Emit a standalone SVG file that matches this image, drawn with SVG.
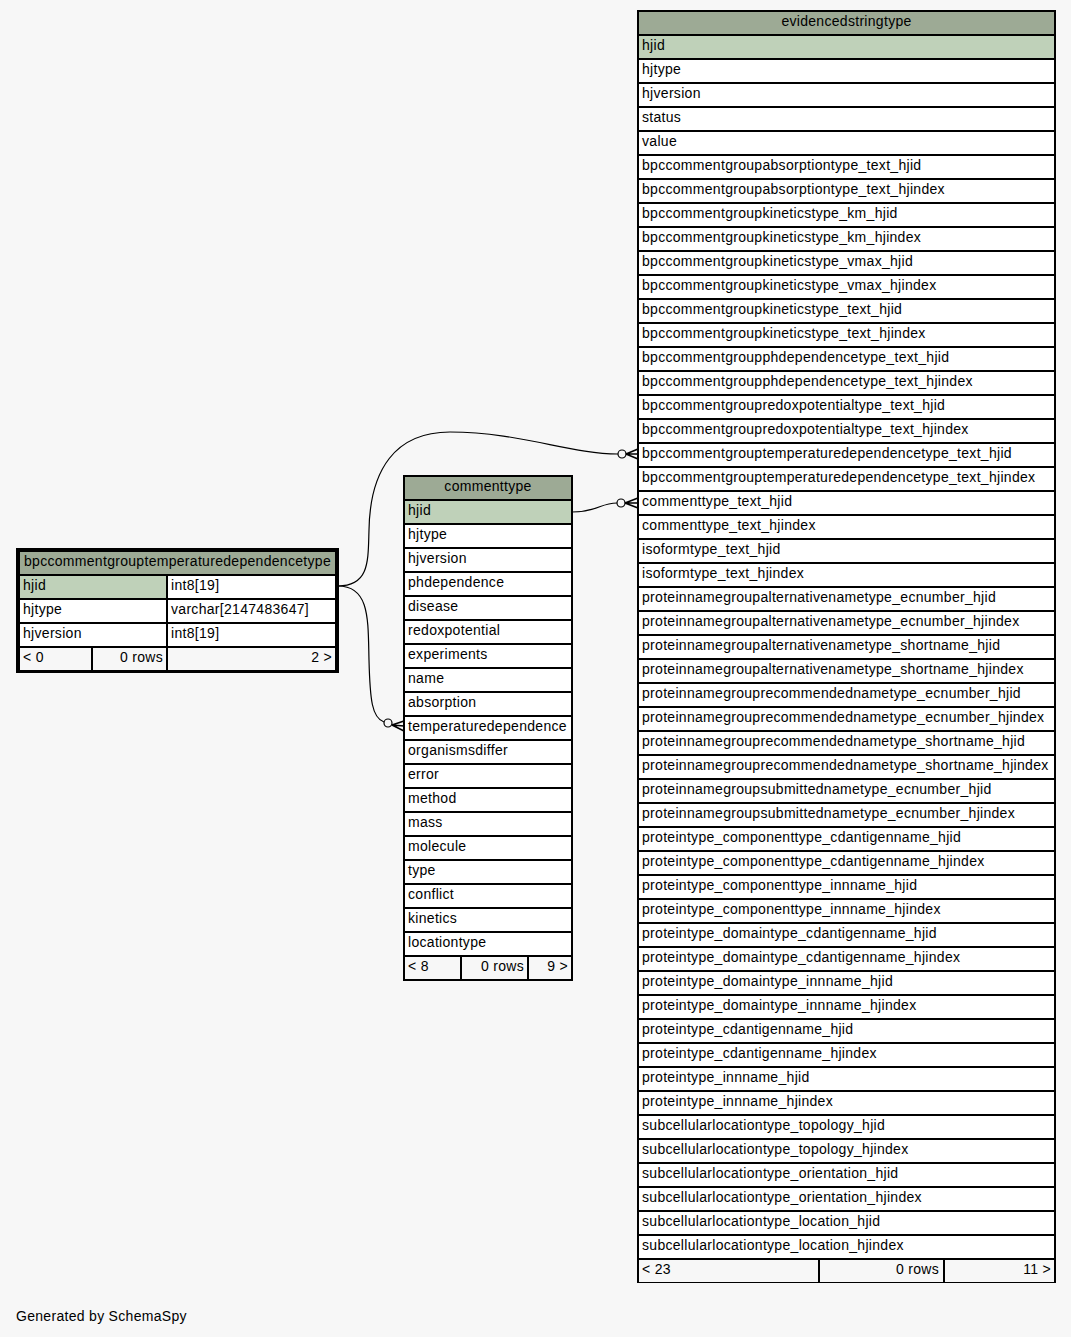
<svg xmlns="http://www.w3.org/2000/svg" width="1071" height="1337" viewBox="0 0 1071 1337">
<style>
text{font-family:"Liberation Sans",Arial,sans-serif;font-size:14px;letter-spacing:0.3px;fill:#000;transform:translate(0px,-1px)}
.m{text-anchor:middle}
.e{text-anchor:end}
rect{stroke:#000;stroke-width:1}
.h{fill:#9daa95}
.k{fill:#bfd1b9}
.r{fill:#fff}
.f{fill:#f7f7f7}
.o{fill:none}
.b{fill:none;stroke-width:3}
.ln{fill:none;stroke:#000;stroke-width:1.2}
.cr{fill:none;stroke:#000;stroke-width:1.6}
.dot{fill:#f7f7f7;stroke:#000;stroke-width:1.2}
</style>
<rect x="0" y="0" width="1071" height="1337" style="fill:#f7f7f7;stroke:none"/>

<g id="connectors">
<path class="ln" d="M338,586 C370,586 368,560 369,530 C370,470 395,432 450,432 C520,432 570,454 618,454"/>
<circle class="dot" cx="622" cy="454" r="4"/>
<path class="cr" d="M626,454 L638,449 M626,454 L638,454 M626,454 L638,459"/>
<path class="ln" d="M338,586 C370,586 368,620 369,660 C370,700 372,718 384,722"/>
<circle class="dot" cx="388" cy="723" r="4"/>
<path class="cr" d="M392,725 L404,721 M392,725 L404,726 M392,725 L404,731"/>
<path class="ln" d="M572,512 C598,512 600,503 617,503"/>
<circle class="dot" cx="621" cy="503" r="4"/>
<path class="cr" d="M625,503 L638,498 M625,503 L638,503 M625,503 L638,508"/>
</g>

<g id="bpccommentgrouptemperaturedependencetype">
<rect class="h" x="19.5" y="551.5" width="316" height="23"/>
<text class="m" x="177.5" y="567">bpccommentgrouptemperaturedependencetype</text>
<rect class="k" x="19.5" y="575.5" width="147" height="23"/>
<rect class="r" x="167.5" y="575.5" width="168" height="23"/>
<text x="23" y="591">hjid</text><text x="171" y="591">int8[19]</text>
<rect class="r" x="19.5" y="599.5" width="147" height="23"/>
<rect class="r" x="167.5" y="599.5" width="168" height="23"/>
<text x="23" y="615">hjtype</text><text x="171" y="615">varchar[2147483647]</text>
<rect class="r" x="19.5" y="623.5" width="147" height="23"/>
<rect class="r" x="167.5" y="623.5" width="168" height="23"/>
<text x="23" y="639">hjversion</text><text x="171" y="639">int8[19]</text>
<rect class="f" x="19.5" y="647.5" width="72" height="23"/>
<rect class="f" x="92.5" y="647.5" width="74" height="23"/>
<rect class="f" x="167.5" y="647.5" width="168" height="23"/>
<text x="23" y="663">&lt; 0</text><text class="e" x="163" y="663">0 rows</text><text class="e" x="332" y="663">2 &gt;</text>
<rect class="b" x="17.5" y="549.5" width="320" height="122"/>
</g>

<g id="commenttype">
<rect class="o" x="403.5" y="475.5" width="169" height="505"/>
<rect class="h" x="404.5" y="476.5" width="167" height="23"/>
<text class="m" x="488" y="492">commenttype</text>
<rect class="k" x="404.5" y="500.5" width="167" height="23"/><text x="408" y="516">hjid</text>
<rect class="r" x="404.5" y="524.5" width="167" height="23"/><text x="408" y="540">hjtype</text>
<rect class="r" x="404.5" y="548.5" width="167" height="23"/><text x="408" y="564">hjversion</text>
<rect class="r" x="404.5" y="572.5" width="167" height="23"/><text x="408" y="588">phdependence</text>
<rect class="r" x="404.5" y="596.5" width="167" height="23"/><text x="408" y="612">disease</text>
<rect class="r" x="404.5" y="620.5" width="167" height="23"/><text x="408" y="636">redoxpotential</text>
<rect class="r" x="404.5" y="644.5" width="167" height="23"/><text x="408" y="660">experiments</text>
<rect class="r" x="404.5" y="668.5" width="167" height="23"/><text x="408" y="684">name</text>
<rect class="r" x="404.5" y="692.5" width="167" height="23"/><text x="408" y="708">absorption</text>
<rect class="r" x="404.5" y="716.5" width="167" height="23"/><text x="408" y="732">temperaturedependence</text>
<rect class="r" x="404.5" y="740.5" width="167" height="23"/><text x="408" y="756">organismsdiffer</text>
<rect class="r" x="404.5" y="764.5" width="167" height="23"/><text x="408" y="780">error</text>
<rect class="r" x="404.5" y="788.5" width="167" height="23"/><text x="408" y="804">method</text>
<rect class="r" x="404.5" y="812.5" width="167" height="23"/><text x="408" y="828">mass</text>
<rect class="r" x="404.5" y="836.5" width="167" height="23"/><text x="408" y="852">molecule</text>
<rect class="r" x="404.5" y="860.5" width="167" height="23"/><text x="408" y="876">type</text>
<rect class="r" x="404.5" y="884.5" width="167" height="23"/><text x="408" y="900">conflict</text>
<rect class="r" x="404.5" y="908.5" width="167" height="23"/><text x="408" y="924">kinetics</text>
<rect class="r" x="404.5" y="932.5" width="167" height="23"/><text x="408" y="948">locationtype</text>
<rect class="f" x="404.5" y="956.5" width="56" height="23"/>
<rect class="f" x="461.5" y="956.5" width="66" height="23"/>
<rect class="f" x="528.5" y="956.5" width="43" height="23"/>
<text x="408" y="972">&lt; 8</text><text class="e" x="524" y="972">0 rows</text><text class="e" x="568" y="972">9 &gt;</text>
</g>

<g id="evidencedstringtype">
<rect class="o" x="637.5" y="10.5" width="418" height="1272"/>
<rect class="h" x="638.5" y="11.5" width="416" height="23"/>
<text class="m" x="846.5" y="27">evidencedstringtype</text>
<rect class="k" x="638.5" y="35.5" width="416" height="23"/><text x="642" y="51">hjid</text>
<rect class="r" x="638.5" y="59.5" width="416" height="23"/><text x="642" y="75">hjtype</text>
<rect class="r" x="638.5" y="83.5" width="416" height="23"/><text x="642" y="99">hjversion</text>
<rect class="r" x="638.5" y="107.5" width="416" height="23"/><text x="642" y="123">status</text>
<rect class="r" x="638.5" y="131.5" width="416" height="23"/><text x="642" y="147">value</text>
<rect class="r" x="638.5" y="155.5" width="416" height="23"/><text x="642" y="171">bpccommentgroupabsorptiontype_text_hjid</text>
<rect class="r" x="638.5" y="179.5" width="416" height="23"/><text x="642" y="195">bpccommentgroupabsorptiontype_text_hjindex</text>
<rect class="r" x="638.5" y="203.5" width="416" height="23"/><text x="642" y="219">bpccommentgroupkineticstype_km_hjid</text>
<rect class="r" x="638.5" y="227.5" width="416" height="23"/><text x="642" y="243">bpccommentgroupkineticstype_km_hjindex</text>
<rect class="r" x="638.5" y="251.5" width="416" height="23"/><text x="642" y="267">bpccommentgroupkineticstype_vmax_hjid</text>
<rect class="r" x="638.5" y="275.5" width="416" height="23"/><text x="642" y="291">bpccommentgroupkineticstype_vmax_hjindex</text>
<rect class="r" x="638.5" y="299.5" width="416" height="23"/><text x="642" y="315">bpccommentgroupkineticstype_text_hjid</text>
<rect class="r" x="638.5" y="323.5" width="416" height="23"/><text x="642" y="339">bpccommentgroupkineticstype_text_hjindex</text>
<rect class="r" x="638.5" y="347.5" width="416" height="23"/><text x="642" y="363">bpccommentgroupphdependencetype_text_hjid</text>
<rect class="r" x="638.5" y="371.5" width="416" height="23"/><text x="642" y="387">bpccommentgroupphdependencetype_text_hjindex</text>
<rect class="r" x="638.5" y="395.5" width="416" height="23"/><text x="642" y="411">bpccommentgroupredoxpotentialtype_text_hjid</text>
<rect class="r" x="638.5" y="419.5" width="416" height="23"/><text x="642" y="435">bpccommentgroupredoxpotentialtype_text_hjindex</text>
<rect class="r" x="638.5" y="443.5" width="416" height="23"/><text x="642" y="459">bpccommentgrouptemperaturedependencetype_text_hjid</text>
<rect class="r" x="638.5" y="467.5" width="416" height="23"/><text x="642" y="483">bpccommentgrouptemperaturedependencetype_text_hjindex</text>
<rect class="r" x="638.5" y="491.5" width="416" height="23"/><text x="642" y="507">commenttype_text_hjid</text>
<rect class="r" x="638.5" y="515.5" width="416" height="23"/><text x="642" y="531">commenttype_text_hjindex</text>
<rect class="r" x="638.5" y="539.5" width="416" height="23"/><text x="642" y="555">isoformtype_text_hjid</text>
<rect class="r" x="638.5" y="563.5" width="416" height="23"/><text x="642" y="579">isoformtype_text_hjindex</text>
<rect class="r" x="638.5" y="587.5" width="416" height="23"/><text x="642" y="603">proteinnamegroupalternativenametype_ecnumber_hjid</text>
<rect class="r" x="638.5" y="611.5" width="416" height="23"/><text x="642" y="627">proteinnamegroupalternativenametype_ecnumber_hjindex</text>
<rect class="r" x="638.5" y="635.5" width="416" height="23"/><text x="642" y="651">proteinnamegroupalternativenametype_shortname_hjid</text>
<rect class="r" x="638.5" y="659.5" width="416" height="23"/><text x="642" y="675">proteinnamegroupalternativenametype_shortname_hjindex</text>
<rect class="r" x="638.5" y="683.5" width="416" height="23"/><text x="642" y="699">proteinnamegrouprecommendednametype_ecnumber_hjid</text>
<rect class="r" x="638.5" y="707.5" width="416" height="23"/><text x="642" y="723">proteinnamegrouprecommendednametype_ecnumber_hjindex</text>
<rect class="r" x="638.5" y="731.5" width="416" height="23"/><text x="642" y="747">proteinnamegrouprecommendednametype_shortname_hjid</text>
<rect class="r" x="638.5" y="755.5" width="416" height="23"/><text x="642" y="771">proteinnamegrouprecommendednametype_shortname_hjindex</text>
<rect class="r" x="638.5" y="779.5" width="416" height="23"/><text x="642" y="795">proteinnamegroupsubmittednametype_ecnumber_hjid</text>
<rect class="r" x="638.5" y="803.5" width="416" height="23"/><text x="642" y="819">proteinnamegroupsubmittednametype_ecnumber_hjindex</text>
<rect class="r" x="638.5" y="827.5" width="416" height="23"/><text x="642" y="843">proteintype_componenttype_cdantigenname_hjid</text>
<rect class="r" x="638.5" y="851.5" width="416" height="23"/><text x="642" y="867">proteintype_componenttype_cdantigenname_hjindex</text>
<rect class="r" x="638.5" y="875.5" width="416" height="23"/><text x="642" y="891">proteintype_componenttype_innname_hjid</text>
<rect class="r" x="638.5" y="899.5" width="416" height="23"/><text x="642" y="915">proteintype_componenttype_innname_hjindex</text>
<rect class="r" x="638.5" y="923.5" width="416" height="23"/><text x="642" y="939">proteintype_domaintype_cdantigenname_hjid</text>
<rect class="r" x="638.5" y="947.5" width="416" height="23"/><text x="642" y="963">proteintype_domaintype_cdantigenname_hjindex</text>
<rect class="r" x="638.5" y="971.5" width="416" height="23"/><text x="642" y="987">proteintype_domaintype_innname_hjid</text>
<rect class="r" x="638.5" y="995.5" width="416" height="23"/><text x="642" y="1011">proteintype_domaintype_innname_hjindex</text>
<rect class="r" x="638.5" y="1019.5" width="416" height="23"/><text x="642" y="1035">proteintype_cdantigenname_hjid</text>
<rect class="r" x="638.5" y="1043.5" width="416" height="23"/><text x="642" y="1059">proteintype_cdantigenname_hjindex</text>
<rect class="r" x="638.5" y="1067.5" width="416" height="23"/><text x="642" y="1083">proteintype_innname_hjid</text>
<rect class="r" x="638.5" y="1091.5" width="416" height="23"/><text x="642" y="1107">proteintype_innname_hjindex</text>
<rect class="r" x="638.5" y="1115.5" width="416" height="23"/><text x="642" y="1131">subcellularlocationtype_topology_hjid</text>
<rect class="r" x="638.5" y="1139.5" width="416" height="23"/><text x="642" y="1155">subcellularlocationtype_topology_hjindex</text>
<rect class="r" x="638.5" y="1163.5" width="416" height="23"/><text x="642" y="1179">subcellularlocationtype_orientation_hjid</text>
<rect class="r" x="638.5" y="1187.5" width="416" height="23"/><text x="642" y="1203">subcellularlocationtype_orientation_hjindex</text>
<rect class="r" x="638.5" y="1211.5" width="416" height="23"/><text x="642" y="1227">subcellularlocationtype_location_hjid</text>
<rect class="r" x="638.5" y="1235.5" width="416" height="23"/><text x="642" y="1251">subcellularlocationtype_location_hjindex</text>
<rect class="f" x="638.5" y="1259.5" width="180" height="23"/>
<rect class="f" x="819.5" y="1259.5" width="124" height="23"/>
<rect class="f" x="944.5" y="1259.5" width="110" height="23"/>
<text x="642" y="1275">&lt; 23</text><text class="e" x="939" y="1275">0 rows</text><text class="e" x="1051" y="1275">11 &gt;</text>
</g>

<text x="16" y="1322">Generated by SchemaSpy</text>
</svg>
